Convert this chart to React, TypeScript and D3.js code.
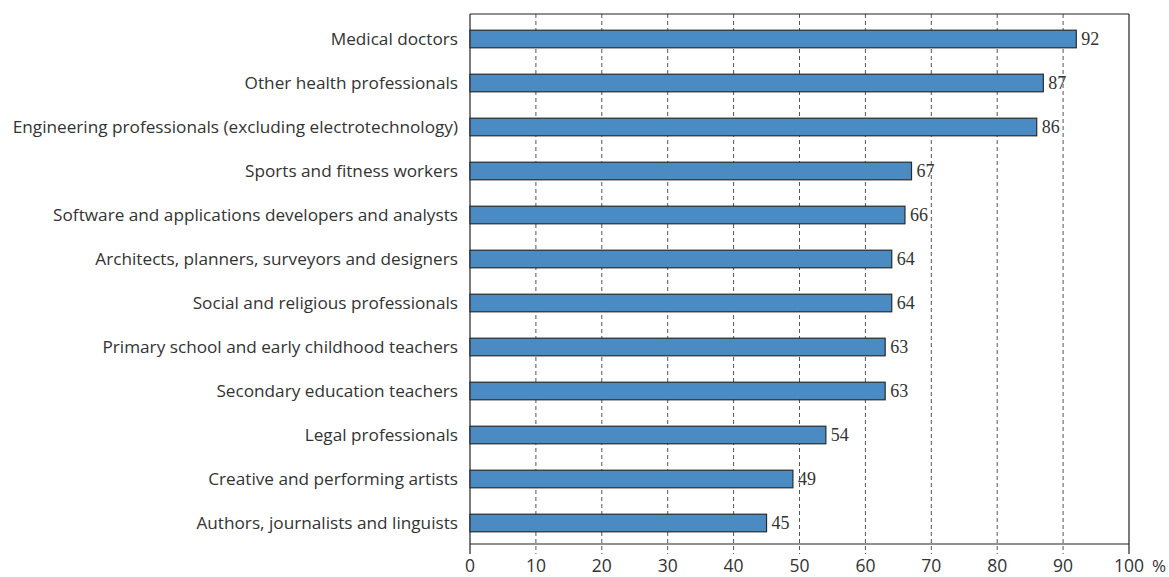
import React from "react";
import * as d3 from "d3";

const categories = [
  "Medical doctors",
  "Other health professionals",
  "Engineering professionals (excluding electrotechnology)",
  "Sports and fitness workers",
  "Software and applications developers and analysts",
  "Architects, planners, surveyors and designers",
  "Social and religious professionals",
  "Primary school and early childhood teachers",
  "Secondary education teachers",
  "Legal professionals",
  "Creative and performing artists",
  "Authors, journalists and linguists",
];

const values = [92, 87, 86, 67, 66, 64, 64, 63, 63, 54, 49, 45];

const xTicks = [0, 10, 20, 30, 40, 50, 60, 70, 80, 90, 100];

const W = 1169;
const H = 577;
const left = 470;
const right = 1129;
const top = 14;
const bottom = 544;
const labelFont = "'Open Sans', sans-serif";

export default function App() {
  const x = d3.scaleLinear().domain([0, 100]).range([left, right]);
  const y = d3
    .scaleBand<string>()
    .domain(categories)
    .range([17, 545])
    .paddingInner(0.6)
    .paddingOuter(0.3);

  return (
    <svg width={W} height={H} style={{ position: "absolute", left: 0, top: 0, background: "#fff" }}>
      {/* gridlines extend below the axis as tick marks */}
      {xTicks.slice(1, -1).map((t) => (
        <line
          key={t}
          x1={x(t)}
          x2={x(t)}
          y1={top}
          y2={bottom + 10}
          stroke="#555"
          strokeWidth={1}
          strokeDasharray="4,3"
        />
      ))}
      {/* frame */}
      <line x1={left} x2={right} y1={top} y2={top} stroke="#222" strokeWidth={1.2} />
      <line x1={left} x2={right} y1={bottom} y2={bottom} stroke="#222" strokeWidth={1.2} />
      <line x1={left} x2={left} y1={top} y2={bottom + 10} stroke="#222" strokeWidth={1.2} />
      <line x1={right} x2={right} y1={top} y2={bottom + 10} stroke="#222" strokeWidth={1.2} />

      {categories.map((c, i) => {
        const yy = y(c)!;
        const bh = y.bandwidth();
        return (
          <g key={c}>
            <rect
              x={x(0)}
              y={yy}
              width={x(values[i]) - x(0)}
              height={bh}
              fill="#4a8bc4"
              stroke="#2a2a2a"
              strokeWidth={1.2}
            />
            <text
              x={left - 12}
              y={yy + bh / 2}
              dy="0.35em"
              textAnchor="end"
              fontFamily={labelFont}
              fontSize={17.2}
              fill="#333"
            >
              {c}
            </text>
            <text
              x={x(values[i]) + 5}
              y={yy + bh / 2}
              dy="0.35em"
              fontFamily="'Liberation Serif', serif"
              fontSize={18}
              fill="#333"
            >
              {values[i]}
            </text>
          </g>
        );
      })}

      {xTicks.map((t) => (
        <text
          key={t}
          x={x(t)}
          y={bottom + 28}
          textAnchor="middle"
          fontFamily={labelFont}
          fontSize={17.5}
          fill="#333"
        >
          {t}
        </text>
      ))}
      <text x={right + 23} y={bottom + 28} fontFamily={labelFont} fontSize={17} fill="#333">
        %
      </text>
    </svg>
  );
}
